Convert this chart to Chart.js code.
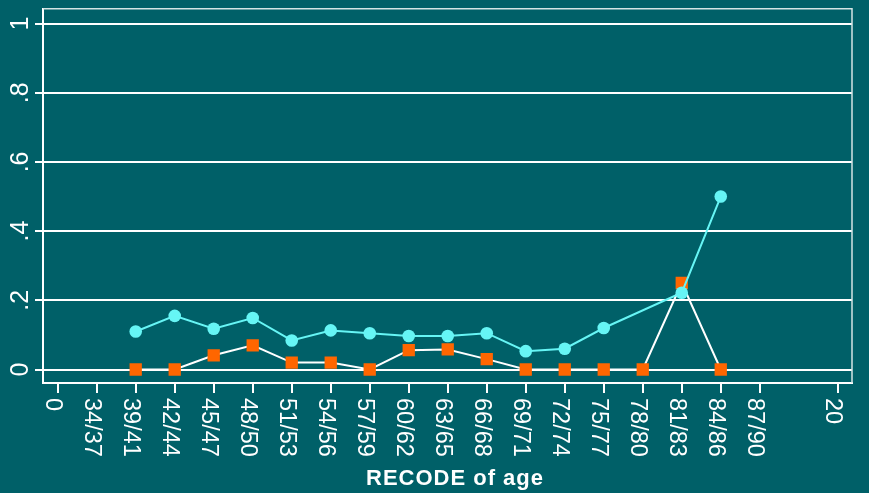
<!DOCTYPE html>
<html>
<head>
<meta charset="utf-8">
<script src="https://cdn.jsdelivr.net/npm/chart.js@4.4.1/dist/chart.umd.min.js"></script>
<style>
    html, body { margin: 0; padding: 0; background: #006068; }
    #wrap { width: 869px; height: 493px; position: relative; }
</style>
</head>
<body>
<div id="wrap"><canvas id="grafico"></canvas></div>
<script>
// Ticks do eixo x (valor numérico e rótulo)
const xTickValues = [0, 1, 2, 3, 4, 5, 6, 7, 8, 9, 10, 11, 12, 13, 14, 15, 16, 17, 18, 20];
const xTickLabels = ['0', '34/37', '39/41', '42/44', '45/47', '48/50', '51/53', '54/56', '57/59', '60/62',
    '63/65', '66/68', '69/71', '72/74', '75/77', '78/80', '81/83', '84/86', '87/90', '20'];

// Ticks do eixo y
const yTickValues = [0, 0.2, 0.4, 0.6, 0.8, 1];
const yTickLabels = ['0', '.2', '.4', '.6', '.8', '1'];

// Série ciano (círculos) - sem valor em 78/80
const cyanX = [2, 3, 4, 5, 6, 7, 8, 9, 10, 11, 12, 13, 14, 16, 17];
const cyanValues = [0.110, 0.155, 0.118, 0.149, 0.084, 0.113, 0.105, 0.097, 0.097, 0.105, 0.053, 0.060, 0.120, 0.222, 0.500];

// Série laranja (quadrados, linha branca)
const orangeX = [2, 3, 4, 5, 6, 7, 8, 9, 10, 11, 12, 13, 14, 15, 16, 17];
const orangeValues = [0, 0, 0.041, 0.070, 0.020, 0.020, 0, 0.056, 0.058, 0.030, 0, 0, 0, 0, 0.250, 0];

const corCiano = '#66f5f5';
const corLaranja = '#ff6600';
const fonte = '"Liberation Sans", Arial, sans-serif';

function pontos(xs, ys) {
    return xs.map((x, i) => ({ x: x, y: ys[i] }));
}

// Rótulos girados e moldura (o Chart.js não gira rótulos no sentido horário)
const rotulosPlugin = {
    id: 'rotulos',
    afterDraw(chart) {
        const ctx = chart.ctx;
        const sx = chart.scales.x;
        const sy = chart.scales.y;
        const area = chart.chartArea;
        ctx.save();

        // moldura de cima e da direita
        ctx.strokeStyle = '#d4e4e4';
        ctx.lineWidth = 1.5;
        ctx.beginPath();
        ctx.moveTo(area.left, area.top);
        ctx.lineTo(area.right, area.top);
        ctx.lineTo(area.right, area.bottom);
        ctx.stroke();

        ctx.fillStyle = '#ffffff';
        ctx.textBaseline = 'alphabetic';

        // eixo x
        ctx.font = '23.5px ' + fonte;
        ctx.textAlign = 'left';
        xTickValues.forEach((v, i) => {
            ctx.save();
            ctx.translate(sx.getPixelForValue(v) - 11.4, 398);
            ctx.rotate(Math.PI / 2);
            ctx.fillText(xTickLabels[i], 0, 0);
            ctx.restore();
        });

        // eixo y
        ctx.font = '25px ' + fonte;
        ctx.textAlign = 'center';
        yTickValues.forEach((v, i) => {
            ctx.save();
            ctx.translate(28, sy.getPixelForValue(v));
            ctx.rotate(-Math.PI / 2);
            ctx.fillText(yTickLabels[i], 0, 0);
            ctx.restore();
        });

        // título do eixo x
        ctx.font = 'bold 22px ' + fonte;
        ctx.letterSpacing = '1px';
        ctx.textAlign = 'center';
        ctx.fillText('RECODE of age', 455, 485);

        ctx.restore();
    }
};

new Chart(document.getElementById('grafico'), {
    type: 'line',
    data: {
        datasets: [
            {
                label: 'ciano',
                data: pontos(cyanX, cyanValues),
                borderColor: corCiano,
                backgroundColor: corCiano,
                borderWidth: 2,
                pointStyle: 'circle',
                pointRadius: 6.3,
                pointBorderWidth: 0,
                tension: 0
            },
            {
                label: 'laranja',
                data: pontos(orangeX, orangeValues),
                borderColor: '#ffffff',
                backgroundColor: corLaranja,
                borderWidth: 2,
                pointStyle: 'rect',
                pointRadius: 8.7,
                pointBorderWidth: 0,
                tension: 0
            }
        ]
    },
    options: {
        responsive: true,
        maintainAspectRatio: false,
        animation: false,
        events: [],
        layout: {
            padding: { top: 7, right: 17, left: 0, bottom: 0 }
        },
        plugins: {
            legend: { display: false },
            tooltip: { enabled: false }
        },
        scales: {
            x: {
                type: 'linear',
                min: -0.377,
                max: 20.365,
                afterBuildTicks: s => { s.ticks = xTickValues.map(v => ({ value: v })); },
                afterFit: s => { s.height = 110; },
                ticks: { display: false },
                grid: {
                    drawOnChartArea: false,
                    drawTicks: true,
                    tickLength: 10,
                    color: '#ffffff',
                    lineWidth: 2
                },
                border: { display: true, color: '#ffffff', width: 2 }
            },
            y: {
                min: -0.039,
                max: 1.043,
                afterBuildTicks: s => { s.ticks = yTickValues.map(v => ({ value: v })); },
                afterFit: s => { s.width = 43; },
                ticks: { display: false },
                grid: {
                    color: '#ffffff',
                    lineWidth: 2,
                    tickLength: 8
                },
                border: { display: true, color: '#ffffff', width: 2 }
            }
        }
    },
    plugins: [rotulosPlugin]
});
</script>
</body>
</html>
